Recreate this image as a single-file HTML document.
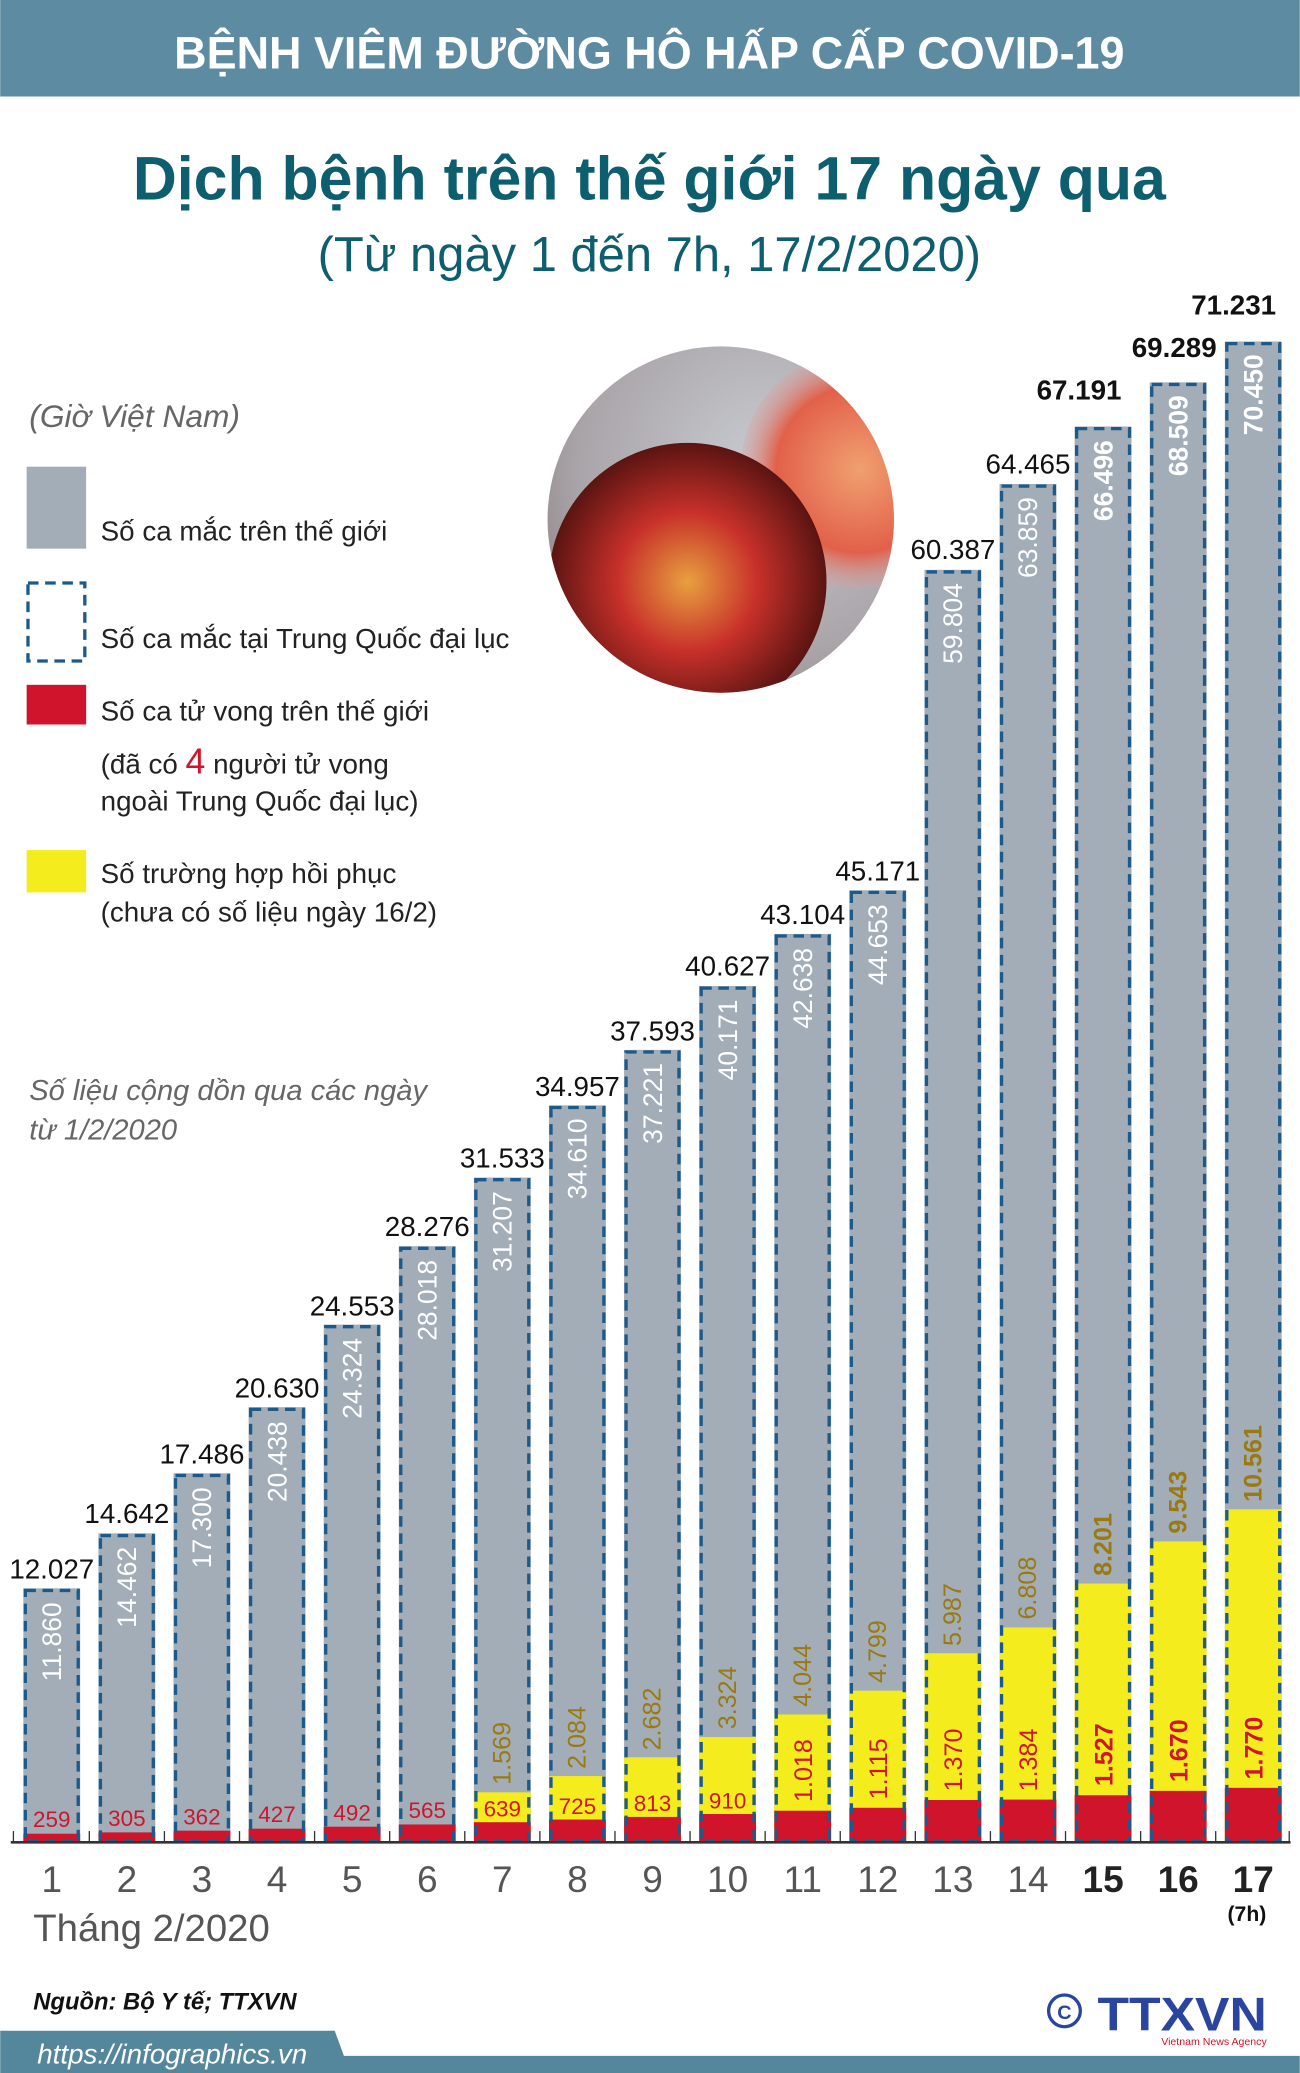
<!DOCTYPE html>
<html><head><meta charset="utf-8"><style>
html,body{margin:0;padding:0;background:#fff;}
svg{display:block;font-family:"Liberation Sans","DejaVu Sans",sans-serif;}
</style></head><body>
<svg width="1300" height="2073" viewBox="0 0 983 1568" xmlns="http://www.w3.org/2000/svg">
<defs>
<radialGradient id="bg" cx="0.6" cy="0.35" r="0.8">
<stop offset="0" stop-color="#c9ccd2"/><stop offset="0.6" stop-color="#a9a4a8"/><stop offset="1" stop-color="#7c6a6a"/></radialGradient>
<radialGradient id="v1" cx="0.5" cy="0.5" r="0.5">
<stop offset="0" stop-color="#e8a040"/><stop offset="0.5" stop-color="#c8302a"/><stop offset="1" stop-color="#5a1412"/></radialGradient>
<radialGradient id="v2" cx="0.5" cy="0.5" r="0.5">
<stop offset="0" stop-color="#f0a070"/><stop offset="0.7" stop-color="#e2604a"/><stop offset="1" stop-color="#d9a0a0" stop-opacity="0.3"/></radialGradient>
<clipPath id="cc"><circle cx="545" cy="393" r="131"/></clipPath>
</defs>
<rect x="0" y="0" width="983" height="73" fill="#5d8ba1"/>
<text x="491" y="52" text-anchor="middle" font-size="34" font-weight="bold" fill="#fff">BỆNH VIÊM ĐƯỜNG HÔ HẤP CẤP COVID-19</text>
<text x="491" y="151" text-anchor="middle" font-size="46" font-weight="bold" fill="#0d5e6e">Dịch bệnh trên thế giới 17 ngày qua</text>
<text x="491" y="205" text-anchor="middle" font-size="37" fill="#0d5e6e">(Từ ngày 1 đến 7h, 17/2/2020)</text>
<g clip-path="url(#cc)">
<rect x="400" y="250" width="300" height="300" fill="url(#bg)"/>
<circle cx="650" cy="355" r="90" fill="url(#v2)"/>
<circle cx="520" cy="440" r="105" fill="url(#v1)"/>
</g>
<text x="22" y="323" font-size="24" font-style="italic" fill="#666">(Giờ Việt Nam)</text>
<rect x="20" y="353" width="45" height="62" fill="#a2adb7"/>
<text x="76" y="409" font-size="21" fill="#222">Số ca mắc trên thế giới</text>
<rect x="21" y="441" width="43" height="59" fill="none" stroke="#1b5a8a" stroke-width="2.5" stroke-dasharray="8,5"/>
<text x="76" y="490" font-size="21" fill="#222">Số ca mắc tại Trung Quốc đại lục</text>
<rect x="20" y="518" width="45" height="30" fill="#d0142c"/>
<text x="76" y="545" font-size="21" fill="#222">Số ca tử vong trên thế giới</text>
<text x="76" y="585" font-size="21" fill="#222">(đã có <tspan fill="#d0142c" font-size="27">4</tspan> người tử vong</text>
<text x="76" y="613" font-size="21" fill="#222">ngoài Trung Quốc đại lục)</text>
<rect x="20" y="643" width="45" height="32" fill="#f4ec1c"/>
<text x="76" y="668" font-size="21" fill="#222">Số trường hợp hồi phục</text>
<text x="76" y="697" font-size="21" fill="#222">(chưa có số liệu ngày 16/2)</text>
<text x="22" y="832" font-size="22" font-style="italic" fill="#666">Số liệu cộng dồn qua các ngày</text>
<text x="22" y="862" font-size="22" font-style="italic" fill="#666">từ 1/2/2020</text>

<g fill="#a2adb7">
<rect x="17.5" y="1201.4" width="43" height="191.6"/>
<rect x="74.3" y="1159.8" width="43" height="233.2"/>
<rect x="131.1" y="1114.4" width="43" height="278.6"/>
<rect x="187.9" y="1064.4" width="43" height="328.6"/>
<rect x="244.7" y="1001.9" width="43" height="391.1"/>
<rect x="301.5" y="942.6" width="43" height="450.4"/>
<rect x="358.3" y="890.7" width="43" height="502.3"/>
<rect x="415.1" y="836.1" width="43" height="556.9"/>
<rect x="471.9" y="794.1" width="43" height="598.9"/>
<rect x="528.7" y="745.8" width="43" height="647.2"/>
<rect x="585.5" y="706.4" width="43" height="686.6"/>
<rect x="642.3" y="673.4" width="43" height="719.6"/>
<rect x="699.1" y="431.0" width="43" height="962"/>
<rect x="755.9" y="366.1" width="43" height="1026.9"/>
<rect x="812.7" y="322.6" width="43" height="1070.4"/>
<rect x="869.5" y="289.2" width="43" height="1103.8"/>
<rect x="926.3" y="258.3" width="43" height="1134.7"/>
</g>
<g fill="#f4ec1c">
<rect x="358.3" y="1355.7" width="43" height="37.3"/>
<rect x="415.1" y="1343.4" width="43" height="49.6"/>
<rect x="471.9" y="1329.2" width="43" height="63.8"/>
<rect x="528.7" y="1313.9" width="43" height="79.1"/>
<rect x="585.5" y="1296.8" width="43" height="96.2"/>
<rect x="642.3" y="1278.8" width="43" height="114.2"/>
<rect x="699.1" y="1250.5" width="43" height="142.5"/>
<rect x="755.9" y="1231" width="43" height="162"/>
<rect x="812.7" y="1197.8" width="43" height="195.2"/>
<rect x="869.5" y="1165.9" width="43" height="227.1"/>
<rect x="926.3" y="1141.6" width="43" height="251.4"/>
</g>
<g fill="#d0142c">
<rect x="17.5" y="1387" width="43" height="6"/>
<rect x="74.3" y="1386" width="43" height="7"/>
<rect x="131.1" y="1384.7" width="43" height="8.3"/>
<rect x="187.9" y="1383.2" width="43" height="9.8"/>
<rect x="244.7" y="1381.7" width="43" height="11.3"/>
<rect x="301.5" y="1380" width="43" height="13"/>
<rect x="358.3" y="1378.3" width="43" height="14.7"/>
<rect x="415.1" y="1376.3" width="43" height="16.7"/>
<rect x="471.9" y="1374.3" width="43" height="18.7"/>
<rect x="528.7" y="1372.1" width="43" height="20.9"/>
<rect x="585.5" y="1369.6" width="43" height="23.4"/>
<rect x="642.3" y="1367.4" width="43" height="25.6"/>
<rect x="699.1" y="1361.5" width="43" height="31.5"/>
<rect x="755.9" y="1361.2" width="43" height="31.8"/>
<rect x="812.7" y="1357.9" width="43" height="35.1"/>
<rect x="869.5" y="1354.6" width="43" height="38.4"/>
<rect x="926.3" y="1352.3" width="43" height="40.7"/>
</g>
<g fill="none" stroke="#1b5a8a" stroke-width="2.5" stroke-dasharray="8,5">
<rect x="19" y="1203" width="40" height="190"/>
<rect x="75.8" y="1161.5" width="40" height="231.5"/>
<rect x="132.6" y="1116" width="40" height="277"/>
<rect x="189.4" y="1066" width="40" height="327"/>
<rect x="246.2" y="1003.5" width="40" height="389.5"/>
<rect x="303" y="944.2" width="40" height="448.8"/>
<rect x="359.8" y="892.3" width="40" height="500.7"/>
<rect x="416.6" y="837.7" width="40" height="555.3"/>
<rect x="473.4" y="795.7" width="40" height="597.3"/>
<rect x="530.2" y="747.4" width="40" height="645.6"/>
<rect x="587" y="708" width="40" height="685"/>
<rect x="643.8" y="675" width="40" height="718"/>
<rect x="700.6" y="432.6" width="40" height="960.4"/>
<rect x="757.4" y="367.7" width="40" height="1025.3"/>
<rect x="814.2" y="324.2" width="40" height="1068.8"/>
<rect x="871" y="290.8" width="40" height="1102.2"/>
<rect x="927.8" y="259.9" width="40" height="1133.1"/>
</g>
<line x1="8" y1="1393.5" x2="976" y2="1393.5" stroke="#333" stroke-width="2"/>
<g stroke="#333" stroke-width="1">
<line x1="10" y1="1385" x2="10" y2="1393"/><line x1="67.4" y1="1385" x2="67.4" y2="1393"/>
<line x1="124.2" y1="1385" x2="124.2" y2="1393"/><line x1="181" y1="1385" x2="181" y2="1393"/>
<line x1="237.8" y1="1385" x2="237.8" y2="1393"/><line x1="294.6" y1="1385" x2="294.6" y2="1393"/>
<line x1="351.4" y1="1385" x2="351.4" y2="1393"/><line x1="408.2" y1="1385" x2="408.2" y2="1393"/>
<line x1="465" y1="1385" x2="465" y2="1393"/><line x1="521.8" y1="1385" x2="521.8" y2="1393"/>
<line x1="578.6" y1="1385" x2="578.6" y2="1393"/><line x1="635.4" y1="1385" x2="635.4" y2="1393"/>
<line x1="692.2" y1="1385" x2="692.2" y2="1393"/><line x1="749" y1="1385" x2="749" y2="1393"/>
<line x1="805.8" y1="1385" x2="805.8" y2="1393"/><line x1="862.6" y1="1385" x2="862.6" y2="1393"/>
<line x1="919.4" y1="1385" x2="919.4" y2="1393"/><line x1="975" y1="1385" x2="975" y2="1393"/>
</g>

<g font-size="21" fill="#111" text-anchor="middle">
<text x="39" y="1194">12.027</text>
<text x="95.8" y="1152">14.642</text>
<text x="152.6" y="1107">17.486</text>
<text x="209.4" y="1057">20.630</text>
<text x="266.2" y="995">24.553</text>
<text x="323" y="935">28.276</text>
<text x="379.8" y="883">31.533</text>
<text x="436.6" y="829">34.957</text>
<text x="493.4" y="787">37.593</text>
<text x="550.2" y="738">40.627</text>
<text x="607" y="699">43.104</text>
<text x="663.8" y="666">45.171</text>
<text x="720.6" y="423">60.387</text>
<text x="777.4" y="358">64.465</text>
<text x="816" y="302" font-weight="bold">67.191</text>
<text x="888" y="270" font-weight="bold">69.289</text>
<text x="933" y="238" font-weight="bold">71.231</text>
</g>
<g font-size="20" fill="#fff" text-anchor="end">
<text transform="translate(46,1212) rotate(-90)">11.860</text>
<text transform="translate(102.8,1170) rotate(-90)">14.462</text>
<text transform="translate(159.6,1125) rotate(-90)">17.300</text>
<text transform="translate(216.4,1075) rotate(-90)">20.438</text>
<text transform="translate(273.2,1012) rotate(-90)">24.324</text>
<text transform="translate(330,953) rotate(-90)">28.018</text>
<text transform="translate(386.8,901) rotate(-90)">31.207</text>
<text transform="translate(443.6,846) rotate(-90)">34.610</text>
<text transform="translate(500.4,804) rotate(-90)">37.221</text>
<text transform="translate(557.2,756) rotate(-90)">40.171</text>
<text transform="translate(614,717) rotate(-90)">42.638</text>
<text transform="translate(670.8,684) rotate(-90)">44.653</text>
<text transform="translate(727.6,441) rotate(-90)">59.804</text>
<text transform="translate(784.4,376) rotate(-90)">63.859</text>
<text transform="translate(841.2,333) rotate(-90)" font-weight="bold">66.496</text>
<text transform="translate(898,299) rotate(-90)" font-weight="bold">68.509</text>
<text transform="translate(954.8,268) rotate(-90)" font-weight="bold">70.450</text>
</g>
<g font-size="17" fill="#d0142c" text-anchor="middle">
<text x="39" y="1382">259</text>
<text x="95.8" y="1381">305</text>
<text x="152.6" y="1380">362</text>
<text x="209.4" y="1378">427</text>
<text x="266.2" y="1377">492</text>
<text x="323" y="1375">565</text>
<text x="379.8" y="1374">639</text>
<text x="436.6" y="1372">725</text>
<text x="493.4" y="1370">813</text>
<text x="550.2" y="1368">910</text>
</g>
<g font-size="19" fill="#9a7a10" text-anchor="start">
<text transform="translate(386,1350) rotate(-90)">1.569</text>
<text transform="translate(442.8,1338) rotate(-90)">2.084</text>
<text transform="translate(499.6,1324) rotate(-90)">2.682</text>
<text transform="translate(556.4,1308) rotate(-90)">3.324</text>
<text transform="translate(613.2,1291) rotate(-90)">4.044</text>
<text transform="translate(670,1273) rotate(-90)">4.799</text>
<text transform="translate(726.8,1245) rotate(-90)">5.987</text>
<text transform="translate(783.6,1225) rotate(-90)">6.808</text>
<text transform="translate(840.4,1192) rotate(-90)" font-weight="bold">8.201</text>
<text transform="translate(897.2,1160) rotate(-90)" font-weight="bold">9.543</text>
<text transform="translate(954,1136) rotate(-90)" font-weight="bold">10.561</text>
</g>
<g font-size="19" fill="#d0142c" text-anchor="start">
<text transform="translate(614,1363) rotate(-90)">1.018</text>
<text transform="translate(670.8,1361) rotate(-90)">1.115</text>
<text transform="translate(727.6,1355) rotate(-90)">1.370</text>
<text transform="translate(784.4,1355) rotate(-90)">1.384</text>
<text transform="translate(841.2,1351) rotate(-90)" font-weight="bold">1.527</text>
<text transform="translate(898,1348) rotate(-90)" font-weight="bold">1.670</text>
<text transform="translate(954.8,1346) rotate(-90)" font-weight="bold">1.770</text>
</g>
<g font-size="28" fill="#555" text-anchor="middle">
<text x="39" y="1431">1</text><text x="95.8" y="1431">2</text><text x="152.6" y="1431">3</text>
<text x="209.4" y="1431">4</text><text x="266.2" y="1431">5</text><text x="323" y="1431">6</text>
<text x="379.8" y="1431">7</text><text x="436.6" y="1431">8</text><text x="493.4" y="1431">9</text>
<text x="550.2" y="1431">10</text><text x="607" y="1431">11</text><text x="663.8" y="1431">12</text>
<text x="720.6" y="1431">13</text><text x="777.4" y="1431">14</text>
<text x="834.2" y="1431" font-weight="bold" fill="#222">15</text>
<text x="891" y="1431" font-weight="bold" fill="#222">16</text>
<text x="947.8" y="1431" font-weight="bold" fill="#222">17</text>
</g>
<text x="943" y="1453" text-anchor="middle" font-size="16" font-weight="bold" fill="#111">(7h)</text>
<text x="25" y="1468" font-size="29" fill="#555">Tháng 2/2020</text>
<text x="25" y="1520" font-size="18" font-weight="bold" font-style="italic" fill="#111">Nguồn: Bộ Y tế; TTXVN</text>
<polygon points="0,1536 253,1536 260,1555 983,1555 983,1568 0,1568" fill="#55879c"/>
<text x="28" y="1561" font-size="21" font-style="italic" fill="#fff">https://infographics.vn</text>
<circle cx="805" cy="1521" r="12" fill="none" stroke="#2a45a0" stroke-width="2.5"/>
<text x="805" y="1527" text-anchor="middle" font-size="15" font-weight="bold" fill="#2a45a0">C</text>
<text x="830" y="1536" font-size="36" font-weight="bold" fill="#2a45a0" textLength="128" lengthAdjust="spacingAndGlyphs">TTXVN</text>
<text x="958" y="1547" text-anchor="end" font-size="8" fill="#d0142c">Vietnam News Agency</text>
</svg>
</body></html>
